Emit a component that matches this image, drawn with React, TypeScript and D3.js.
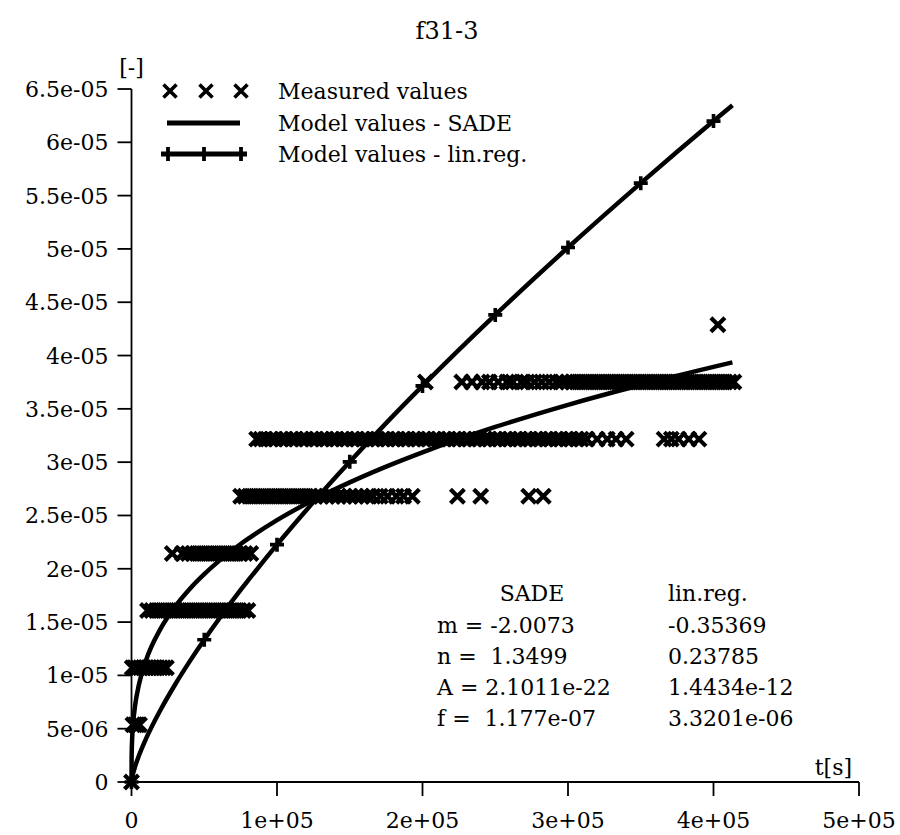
import React from "react";
import * as d3 from "d3";

// Quantised strain levels of the measuring device
const levels = [0, 5.36e-6, 1.072e-5, 1.608e-5, 2.144e-5, 2.68e-5, 3.216e-5, 3.752e-5, 4.288e-5];

// Measurement times in ks, grouped by the level they were recorded at
const timesL0 = [0];
const timesL1 = [1, 2.5, 4, 5.5];
const timesL2 = [0.5, 2, 4, 6, 8, 10, 12, 14, 16, 18, 20, 22, 24];
const timesL3 = [11, 14, 17, 20, 23, 26, 29, 32, 35, 38, 41, 44, 47, 50, 53, 56, 59, 62, 65, 68, 71, 74, 77, 80];
const timesL4 = [28, 35, 39, 42, 45, 48, 51, 54, 57, 60, 63, 66, 69, 72, 75, 78, 82];
const timesL5 = [75, 78, 81, 84, 87, 90, 93, 96, 99, 102, 105, 108, 111, 114, 117, 120, 123, 126, 130, 134, 138, 142, 146, 150, 154, 158, 162, 166, 171, 176, 182, 187, 193, 224, 240, 273, 283];
const timesL6 = [86, 89, 92, 96, 99, 103, 106, 110, 113, 117, 120, 124, 127, 131, 134, 138, 141, 145, 148, 152, 155, 159, 162, 166, 169, 173, 176, 180, 183, 187, 190, 194, 197, 201, 204, 208, 211, 215, 218, 222, 225, 229, 232, 236, 239, 243, 246, 250, 253, 257, 260, 264, 267, 271, 274, 278, 281, 285, 288, 292, 295, 299, 302, 306, 309, 313, 320, 327, 333, 340, 366, 371, 376, 383, 390];
const timesL7 = [202, 227, 234, 241, 246, 252, 258, 262, 268, 272, 277, 282, 287, 292, 296, 300, 303, 306, 309, 312, 315, 318, 321, 324, 327, 330, 333, 336, 339, 342, 345, 348, 351, 354, 357, 360, 363, 366, 369, 372, 375, 378, 381, 384, 387, 390, 393, 396, 399, 402, 405, 408, 411, 414];
const timesL8 = [403];
const measuredTimes = [timesL0, timesL1, timesL2, timesL3, timesL4, timesL5, timesL6, timesL7, timesL8];

// Model curves (time in ks)
const modelTimes = [0, 0.1, 0.5, 1, 2.5, 5, 10, 20, 30, 40, 50, 60, 75, 80, 100, 125, 150, 175, 200, 250, 300, 350, 400, 413];
const sadeValues = [0, 2.47e-6, 4.22e-6, 5.31e-6, 7.2e-6, 9.07e-6, 1.142e-5, 1.438e-5, 1.646e-5, 1.811e-5, 1.95e-5, 2.072e-5, 2.232e-5, 2.28e-5, 2.456e-5, 2.645e-5, 2.81e-5, 2.958e-5, 3.092e-5, 3.33e-5, 3.538e-5, 3.724e-5, 3.894e-5, 3.936e-5];
const linregValues = [0, 1.354e-7, 4.446e-7, 7.42e-7, 1.46e-6, 2.434e-6, 4.063e-6, 6.78e-6, 9.148e-6, 1.1314e-5, 1.3344e-5, 1.527e-5, 1.801e-5, 1.888e-5, 2.226e-5, 2.625e-5, 3.003e-5, 3.366e-5, 3.715e-5, 4.381e-5, 5.013e-5, 5.617e-5, 6.199e-5, 6.347e-5];
const linregMarkerTimes = [0, 50, 100, 150, 200, 250, 300, 350, 400];

const xTicks = [0, 1e5, 2e5, 3e5, 4e5, 5e5];
const xTickLabels = ["0", "1e+05", "2e+05", "3e+05", "4e+05", "5e+05"];
const yTicks = [0, 5e-6, 1e-5, 1.5e-5, 2e-5, 2.5e-5, 3e-5, 3.5e-5, 4e-5, 4.5e-5, 5e-5, 5.5e-5, 6e-5, 6.5e-5];
const yTickLabels = ["0", "5e-06", "1e-05", "1.5e-05", "2e-05", "2.5e-05", "3e-05", "3.5e-05", "4e-05", "4.5e-05", "5e-05", "5.5e-05", "6e-05", "6.5e-05"];

const legendLabels = ["Measured values", "Model values - SADE", "Model values - lin.reg."];
const paramHeaders = ["SADE", "lin.reg."];
const paramNames = ["m = ", "n =  ", "A = ", "f =  "];
const sadeParams = ["-2.0073", "1.3499", "2.1011e-22", "1.177e-07"];
const linregParams = ["-0.35369", "0.23785", "1.4434e-12", "3.3201e-06"];

const W = 900;
const H = 835;
const FONT = "'DejaVu Serif', serif";

const x = d3.scaleLinear().domain([0, 5e5]).range([131.5, 859]);
const y = d3.scaleLinear().domain([0, 6.5e-5]).range([782, 89]);

function Cross({ cx, cy, r = 7, w = 4.2 }: { cx: number; cy: number; r?: number; w?: number }) {
  return (
    <path
      d={`M${cx - r},${cy - r}L${cx + r},${cy + r}M${cx - r},${cy + r}L${cx + r},${cy - r}`}
      stroke="#000"
      strokeWidth={w}
      fill="none"
    />
  );
}

function Plus({ cx, cy, r = 7, w = 3.6 }: { cx: number; cy: number; r?: number; w?: number }) {
  return (
    <path
      d={`M${cx - r},${cy}L${cx + r},${cy}M${cx},${cy - r}L${cx},${cy + r}`}
      stroke="#000"
      strokeWidth={w}
      fill="none"
    />
  );
}

export default function App() {
  const measured: { t: number; v: number }[] = [];
  measuredTimes.forEach((arr, i) => arr.forEach((t) => measured.push({ t: t * 1000, v: levels[i] })));

  const line = d3
    .line<number>()
    .x((_, i) => x(modelTimes[i] * 1000))
    .curve(d3.curveMonotoneX);
  const sadePath = line.y((v) => y(v))(sadeValues) || "";
  const linregPath = line.y((v) => y(v))(linregValues) || "";

  const linregMarkers = linregMarkerTimes.map((t) => {
    const i = modelTimes.indexOf(t);
    return { t: t * 1000, v: linregValues[i] };
  });

  const y0 = y(0);
  const x0 = x(0);
  const tickLen = 14;

  return (
    <svg
      width={W}
      height={H}
      style={{ position: "absolute", left: 0, top: 0, background: "#fff" }}
      fontFamily={FONT}
    >
      <rect width={W} height={H} fill="#fff" />
      <text x={447} y={39} fontSize={24} textAnchor="middle">f31-3</text>

      {/* axes */}
      <g stroke="#000" strokeWidth={1.8} fill="none">
        <line x1={x0} y1={y0} x2={x(5e5)} y2={y0} />
        <line x1={x0} y1={y0} x2={x0} y2={y(6.5e-5)} />
        {xTicks.map((t) => (
          <line key={"xt" + t} x1={x(t)} x2={x(t)} y1={y0} y2={y0 + tickLen} />
        ))}
        {yTicks.map((v) => (
          <line key={"yt" + v} x1={x0 - tickLen} x2={x0} y1={y(v)} y2={y(v)} />
        ))}
      </g>
      {xTicks.map((t, i) => (
        <text key={"xl" + t} x={x(t)} y={828} fontSize={22} textAnchor="middle">
          {xTickLabels[i]}
        </text>
      ))}
      {yTicks.map((v, i) => (
        <text key={"yl" + v} x={x0 - tickLen - 9} y={y(v) + 8} fontSize={22} textAnchor="end">
          {yTickLabels[i]}
        </text>
      ))}
      <text x={x0} y={75} fontSize={22} textAnchor="middle">[-]</text>
      <text x={852} y={775} fontSize={22} textAnchor="end">t[s]</text>

      {/* measured values */}
      {measured.map((d, i) => (
        <Cross key={"m" + i} cx={x(d.t)} cy={y(d.v)} />
      ))}

      {/* model curves */}
      <path d={sadePath} stroke="#000" strokeWidth={4.5} fill="none" />
      <path d={linregPath} stroke="#000" strokeWidth={4.5} fill="none" />
      {linregMarkers.map((d, i) => (
        <Plus key={"p" + i} cx={x(d.t)} cy={y(d.v)} />
      ))}

      {/* legend */}
      <g>
        {[170, 206, 241].map((cx) => (
          <Cross key={"lc" + cx} cx={cx} cy={91} r={6.5} w={3.6} />
        ))}
        <line x1={167} x2={240} y1={123} y2={123} stroke="#000" strokeWidth={5} />
        <line x1={161} x2={247} y1={154} y2={154} stroke="#000" strokeWidth={5} />
        {[168, 204, 241].map((cx) => (
          <line key={"lp" + cx} x1={cx} x2={cx} y1={147} y2={161} stroke="#000" strokeWidth={3.8} />
        ))}
        {legendLabels.map((s, i) => (
          <text key={s} x={278} y={[99, 131, 162][i]} fontSize={22}>
            {s}
          </text>
        ))}
      </g>

      {/* fitted parameters */}
      <g fontSize={22}>
        <text x={532} y={601} textAnchor="middle">{paramHeaders[0]}</text>
        <text x={668} y={601}>{paramHeaders[1]}</text>
        {paramNames.map((n, i) => (
          <g key={n + i}>
            <text x={437} y={633 + i * 31} style={{ whiteSpace: "pre" }}>
              {n + sadeParams[i]}
            </text>
            <text x={668} y={633 + i * 31}>{linregParams[i]}</text>
          </g>
        ))}
      </g>
    </svg>
  );
}
